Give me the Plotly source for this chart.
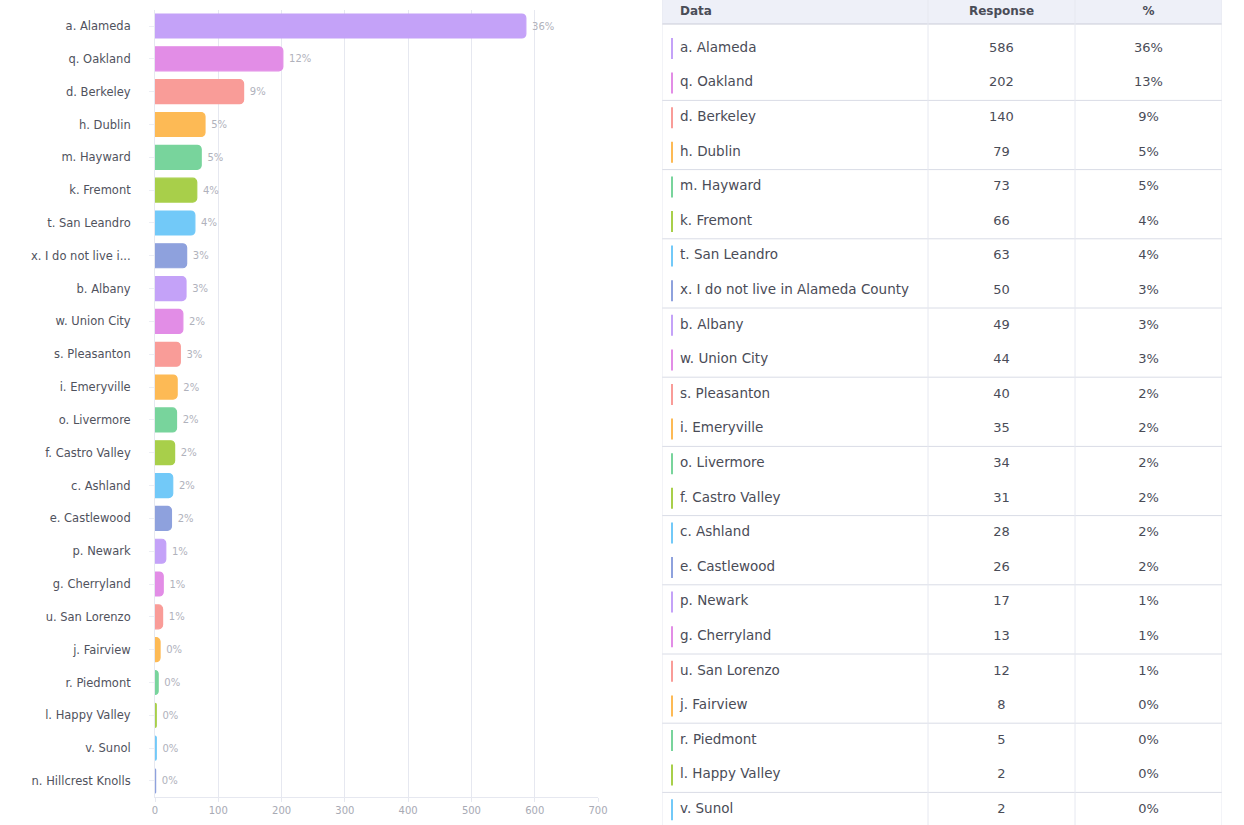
import plotly.graph_objects as go

# ---- data ---------------------------------------------------------------
categories = [
    "a. Alameda", "q. Oakland", "d. Berkeley", "h. Dublin", "m. Hayward",
    "k. Fremont", "t. San Leandro", "x. I do not live in Alameda County",
    "b. Albany", "w. Union City", "s. Pleasanton", "i. Emeryville",
    "o. Livermore", "f. Castro Valley", "c. Ashland", "e. Castlewood",
    "p. Newark", "g. Cherryland", "u. San Lorenzo", "j. Fairview",
    "r. Piedmont", "l. Happy Valley", "v. Sunol", "n. Hillcrest Knolls",
]
axis_labels = [
    "a. Alameda", "q. Oakland", "d. Berkeley", "h. Dublin", "m. Hayward",
    "k. Fremont", "t. San Leandro", "x. I do not live i...",
    "b. Albany", "w. Union City", "s. Pleasanton", "i. Emeryville",
    "o. Livermore", "f. Castro Valley", "c. Ashland", "e. Castlewood",
    "p. Newark", "g. Cherryland", "u. San Lorenzo", "j. Fairview",
    "r. Piedmont", "l. Happy Valley", "v. Sunol", "n. Hillcrest Knolls",
]
responses = [586, 202, 140, 79, 73, 66, 63, 50, 49, 44, 40, 35,
             34, 31, 28, 26, 17, 13, 12, 8, 5, 2, 2, 1]
bar_pct = ["36%", "12%", "9%", "5%", "5%", "4%", "4%", "3%", "3%", "2%",
           "3%", "2%", "2%", "2%", "2%", "2%", "1%", "1%", "1%", "0%",
           "0%", "0%", "0%", "0%"]
table_pct = ["36%", "13%", "9%", "5%", "5%", "4%", "4%", "3%", "3%", "3%",
             "2%", "2%", "2%", "2%", "2%", "2%", "1%", "1%", "1%", "0%",
             "0%", "0%", "0%", "0%"]
x_ticks = [0, 100, 200, 300, 400, 500, 600, 700]
headers = ["Data", "Response", "%"]

# ---- styling ------------------------------------------------------------
palette = ["#c4a2f8", "#e28de6", "#f99c98", "#fdba55",
           "#78d49c", "#a8cf4a", "#72c9f8", "#8ea1dd"]
colors = [palette[i % len(palette)] for i in range(len(categories))]

W, H = 1244, 825
FONT = "DejaVu Sans"
GRID = "#e6e8f0"
LINE = "#d9dce6"
TEXT = "#4a4c57"

fig = go.Figure()

# ---- horizontal bar chart -----------------------------------------------
fig.add_trace(go.Bar(
    x=responses, y=categories, orientation="h",
    marker=dict(color=colors, cornerradius=4,
                line=dict(color=colors, width=1.2)),
    text=bar_pct, texttemplate=" %{text}", textposition="outside",
    textfont=dict(family=FONT, size=10, color="#b0b2bc"),
    cliponaxis=False, hoverinfo="skip",
    xaxis="x", yaxis="y",
))

# ---- table panel (rows by index) ----------------------------------------
ROW_PX = 34.6
FIRST_PX = 48.5
top_row = -FIRST_PX / ROW_PX
bottom_row = (H - FIRST_PX) / ROW_PX
header_row = top_row + 11.5 / ROW_PX
header_bottom = top_row + 24 / ROW_PX

# only the rows whose text fits inside the panel are listed
rows = [i for i in range(len(categories)) if i + 0.3 < bottom_row]
n = len(rows)
names = [categories[i] for i in rows]
row_colors = [colors[i] for i in rows]

TBL_W = 560
COL_NAME = 18
COL_MARK = 10
DIV1, DIV2 = 266, 413
COL_RESP = (DIV1 + DIV2) / 2
COL_PCT = (DIV2 + TBL_W) / 2

# colored row markers
fig.add_trace(go.Scatter(
    x=[COL_MARK] * n, y=rows, mode="markers",
    marker=dict(symbol="line-ns", size=15,
                line=dict(color=row_colors, width=2)),
    hoverinfo="skip", xaxis="x2", yaxis="y2",
))
# names
fig.add_trace(go.Scatter(
    x=[COL_NAME] * n, y=rows, mode="text", text=names,
    textposition="middle right",
    textfont=dict(family=FONT, size=13.5, color=TEXT),
    hoverinfo="skip", xaxis="x2", yaxis="y2",
))
# response counts
fig.add_trace(go.Scatter(
    x=[COL_RESP] * n, y=rows, mode="text",
    text=[str(responses[i]) for i in rows],
    textposition="middle center",
    textfont=dict(family=FONT, size=13, color=TEXT),
    hoverinfo="skip", xaxis="x2", yaxis="y2",
))
# percentages
fig.add_trace(go.Scatter(
    x=[COL_PCT] * n, y=rows, mode="text",
    text=[table_pct[i] for i in rows],
    textposition="middle center",
    textfont=dict(family=FONT, size=13, color=TEXT),
    hoverinfo="skip", xaxis="x2", yaxis="y2",
))
# header
fig.add_trace(go.Scatter(
    x=[COL_NAME, COL_RESP, COL_PCT], y=[header_row] * 3, mode="text",
    text=headers, textposition=["middle right", "middle center", "middle center"],
    textfont=dict(family=FONT, size=12, color=TEXT, weight="bold"),
    hoverinfo="skip", xaxis="x2", yaxis="y2",
))

shapes = []
# header band
shapes.append(dict(type="rect", xref="x2", yref="y2", x0=0, x1=TBL_W,
                   y0=top_row, y1=header_bottom, fillcolor="#eef0f8",
                   line=dict(width=0), layer="below"))
shapes.append(dict(type="line", xref="x2", yref="y2", x0=0, x1=TBL_W,
                   y0=header_bottom, y1=header_bottom,
                   line=dict(color="#c9ccd8", width=1.2)))
# separators between row pairs
for k in range(1, len(categories) // 2):
    yy = 2 * k - 0.5
    shapes.append(dict(type="line", xref="x2", yref="y2", x0=0, x1=TBL_W,
                       y0=yy, y1=yy, line=dict(color=LINE, width=1)))
# column dividers and outer borders
for xx in (0, DIV1, DIV2, TBL_W):
    shapes.append(dict(type="line", xref="x2", yref="y2", x0=xx, x1=xx,
                       y0=top_row, y1=bottom_row,
                       line=dict(color=GRID, width=1)))

# ---- layout -------------------------------------------------------------
bar_top_px, bar_bot_px = 9.6, 797.4
fig.update_layout(
    width=W, height=H,
    margin=dict(l=0, r=0, t=0, b=0),
    paper_bgcolor="white", plot_bgcolor="white",
    showlegend=False, bargap=0.27,
    font=dict(family=FONT, color="#555"),
    xaxis=dict(
        domain=[155 / W, 598 / W], range=[0, 700],
        tickvals=x_ticks, showgrid=True, gridcolor=GRID, gridwidth=1,
        zeroline=False, showline=True, linecolor=GRID,
        ticks="outside", ticklen=4, tickcolor=GRID,
        tickfont=dict(family=FONT, size=10, color="#a8aab4"),
        automargin=False, fixedrange=True,
    ),
    yaxis=dict(
        domain=[(H - bar_bot_px) / H, (H - bar_top_px) / H],
        autorange="reversed", tickmode="array",
        tickvals=categories, ticktext=axis_labels,
        showgrid=False, zeroline=False, showline=True, linecolor=GRID,
        ticks="outside", ticklen=5, tickcolor="#eceef4",
        ticklabelstandoff=16,
        tickfont=dict(family=FONT, size=11.5, color="#50525d"),
        automargin=False, fixedrange=True,
    ),
    xaxis2=dict(domain=[662 / W, 1222 / W], range=[0, TBL_W],
                visible=False, fixedrange=True),
    yaxis2=dict(domain=[0, 1], range=[bottom_row, top_row], anchor="x2",
                visible=False, fixedrange=True),
    shapes=shapes,
)

fig.write_html("out.html")
